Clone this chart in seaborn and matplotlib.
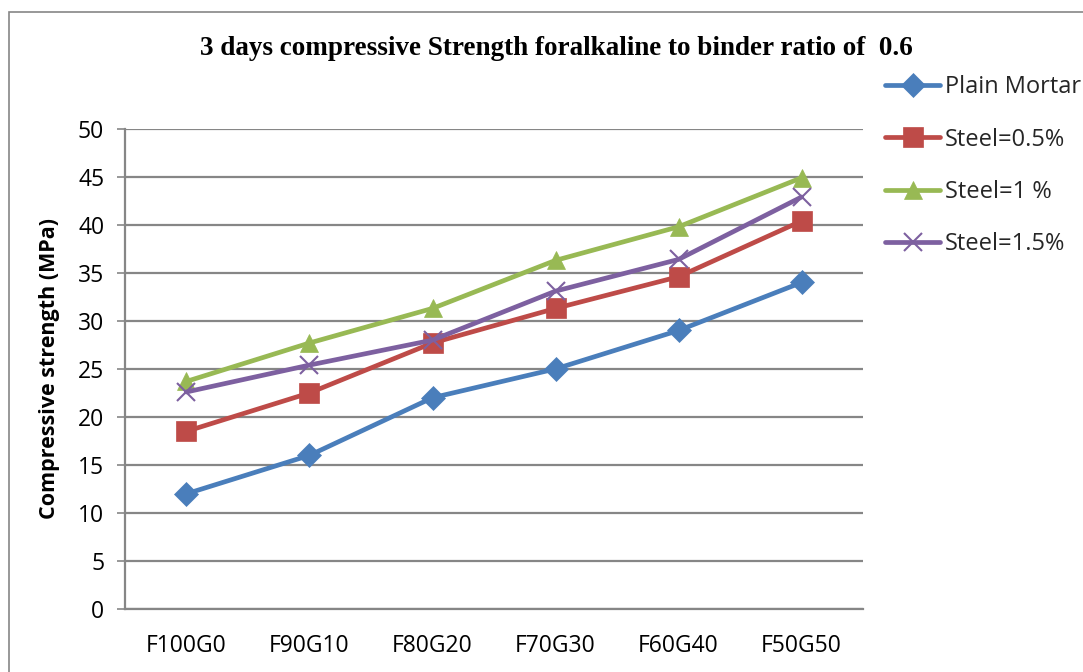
import matplotlib
matplotlib.use("Agg")
import matplotlib.pyplot as plt
import seaborn as sns
from matplotlib.patches import Rectangle

# Mix designs (fly ash / GGBS proportions)
categories = ["F100G0", "F90G10", "F80G20", "F70G30", "F60G40", "F50G50"]

# 3-day compressive strength (MPa)
plain_mortar = [12.0, 16.0, 22.0, 25.0, 29.0, 34.0]
steel_05 = [18.5, 22.5, 27.7, 31.3, 34.6, 40.4]
steel_1 = [23.7, 27.7, 31.3, 36.3, 39.8, 44.9]
steel_15 = [22.6, 25.4, 28.0, 33.1, 36.4, 42.9]

series_names = ["Plain Mortar", "Steel=0.5%", "Steel=1 %", "Steel=1.5%"]
series_values = [plain_mortar, steel_05, steel_1, steel_15]
colors = ["#4A7EBB", "#BE4B48", "#98B954", "#7D60A0"]
markers = ["D", "s", "^", "x"]
marker_sizes = [12, 14, 13.5, 13.5]

y_ticks = [0, 5, 10, 15, 20, 25, 30, 35, 40, 45, 50]

sns.set_theme(style="white")
plt.rcParams["font.family"] = ["Open Sans", "DejaVu Sans"]

fig = plt.figure(figsize=(10.83, 6.72), dpi=100)
ax = fig.add_axes([0.1154, 0.09375, 0.6815, 0.71455])

for name, vals, c, m, ms in zip(series_names, series_values, colors, markers, marker_sizes):
    sns.lineplot(x=categories, y=vals, ax=ax, color=c, lw=3.4, marker=m,
                 markersize=ms, markeredgecolor=c, markerfacecolor=c,
                 markeredgewidth=1.5 if m == "x" else 0.5, label=name, sort=False)

ax.set_xlim(-0.5, 5.5)
ax.set_ylim(0, 50)
ax.set_yticks(y_ticks)
ax.yaxis.grid(True, color="#868686", lw=1.6)
ax.xaxis.grid(False)
for side in ["top", "right"]:
    ax.spines[side].set_visible(False)
for side in ["left", "bottom"]:
    ax.spines[side].set_color("#868686")
    ax.spines[side].set_linewidth(1.6)
ax.tick_params(axis="y", which="major", left=True, length=6, width=1.2,
               color="#868686", pad=9, labelsize=16.5, labelcolor="black")
ax.tick_params(axis="x", bottom=False, pad=12, labelsize=16.5, labelcolor="black")

ax.set_xlabel("")
ax.set_ylabel("Compressive strength (MPa)", fontsize=15.5, fontweight="bold",
              color="black", labelpad=13)

fig.text(0.514, 0.928, "3 days compressive Strength foralkaline to binder ratio of  0.6",
         ha="center", va="center", fontsize=19.5, fontweight="bold",
         family=["Liberation Serif", "DejaVu Serif"], color="black")

leg = ax.legend(loc="upper left", bbox_to_anchor=(0.8085, 0.902),
                bbox_transform=fig.transFigure, frameon=False, fontsize=17,
                handlelength=2.33, handletextpad=0.2, labelspacing=1.2,
                borderaxespad=0)

# Outer chart border
fig.patches.append(Rectangle((9 / 1083, -0.1), 1.2, 1 - 12 / 672 + 0.1,
                             transform=fig.transFigure, fill=False,
                             edgecolor="#868686", lw=1.2))

fig.savefig("out.png", dpi=100)
